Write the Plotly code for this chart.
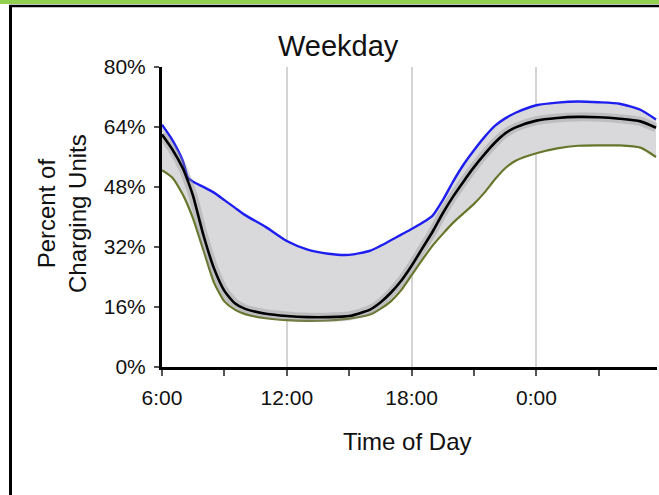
import plotly.graph_objects as go

# Hours of day (6:00 through the next morning, 24 = midnight)
hours = [6, 6.5, 7, 7.25, 7.5, 8, 8.5, 9, 9.5, 10, 11, 12, 13, 14, 15, 16, 16.5, 17,
         17.5, 18, 18.5, 19, 19.5, 20, 20.5, 21, 21.5, 22, 22.5, 23, 24, 25, 26, 27,
         28, 29, 29.75]

upper = [64.6, 60.5, 55.0, 50.5, 49.4, 48.0, 46.5, 44.5, 42.5, 40.5, 37.3, 33.6, 31.3,
         30.2, 29.9, 31.0, 32.3, 33.8, 35.3, 36.8, 38.4, 40.3, 44.5, 49.5, 54.0, 57.8,
         61.3, 64.3, 66.3, 67.8, 69.8, 70.5, 70.8, 70.6, 70.2, 68.6, 66.0]

mean = [62.0, 58.0, 53.0, 49.5, 45.5, 35.0, 26.3, 20.3, 17.0, 15.5, 14.2, 13.6, 13.3,
        13.3, 13.6, 15.3, 17.2, 19.8, 23.0, 27.0, 31.5, 36.0, 41.0, 45.5, 49.5, 53.3,
        56.7, 59.8, 62.3, 63.9, 65.7, 66.4, 66.7, 66.6, 66.2, 65.5, 63.8]

lower = [52.5, 50.5, 46.0, 43.0, 39.5, 31.0, 22.5, 17.5, 15.3, 14.1, 13.0, 12.5, 12.3,
         12.4, 12.9, 14.0, 15.5, 17.5, 20.5, 24.5, 28.5, 32.3, 35.5, 38.5, 41.0, 43.5,
         46.5, 50.0, 53.0, 55.0, 57.0, 58.3, 59.0, 59.1, 59.1, 58.5, 56.0]

tick_vals = [6, 12, 18, 24]
tick_text = ["6:00", "12:00", "18:00", "0:00"]
minor_vals = [9, 15, 21, 27]
y_ticks = [0, 16, 32, 48, 64, 80]
y_text = ["0%", "16%", "32%", "48%", "64%", "80%"]

FONT = "Liberation Sans, Arial, sans-serif"
SPL = dict(shape="spline", smoothing=0.6)

fig = go.Figure()
fig.add_trace(go.Scatter(x=hours, y=lower, mode="lines",
                         line=dict(color="#66762a", width=2.2, **SPL),
                         showlegend=False, hoverinfo="skip"))
fig.add_trace(go.Scatter(x=hours, y=upper, mode="lines", fill="tonexty",
                         fillcolor="#d9d9dc",
                         line=dict(color="#1e1ef0", width=2.4, **SPL),
                         showlegend=False, hoverinfo="skip"))
# soft shadow band around the mean line
fig.add_trace(go.Scatter(x=hours, y=mean, mode="lines",
                         line=dict(color="rgba(140,140,140,0.35)", width=9, **SPL),
                         showlegend=False, hoverinfo="skip"))
fig.add_trace(go.Scatter(x=hours, y=mean, mode="lines",
                         line=dict(color="#000000", width=2.6, **SPL),
                         showlegend=False, hoverinfo="skip"))

L, R, T, B = 162, 2, 67, 128
W, H = 659, 495
pw, ph = W - L - R, H - T - B


def px(x):
    return (x - L) / pw


def py(y):
    return (H - B - y) / ph


fig.update_layout(
    width=W, height=H,
    margin=dict(l=L, r=R, t=T, b=B, pad=0),
    paper_bgcolor="white", plot_bgcolor="white",
    font=dict(family=FONT, color="#111111"),
    showlegend=False,
    xaxis=dict(
        range=[6, 6 + 6 * pw / 124.8],
        tickmode="array", tickvals=tick_vals, ticktext=tick_text,
        ticks="outside", ticklen=6, tickwidth=1.5, tickcolor="#555555",
        tickfont=dict(size=21, family=FONT, color="#111111"),
        showgrid=True, gridcolor="#d4d4d4", gridwidth=2,
        showline=True, linecolor="#000000", linewidth=3,
        zeroline=False, ticklabelstandoff=4,
        minor=dict(tickmode="array", tickvals=minor_vals, ticks="outside",
                   ticklen=6, tickwidth=1.5, tickcolor="#555555", showgrid=False),
        fixedrange=True,
    ),
    yaxis=dict(
        range=[0, 80],
        tickmode="array", tickvals=y_ticks, ticktext=y_text,
        ticks="outside", ticklen=5, tickwidth=1.5, tickcolor="#555555",
        tickfont=dict(size=21, family=FONT, color="#111111"),
        showgrid=False, showline=True, linecolor="#000000", linewidth=3,
        zeroline=False, ticklabelstandoff=4,
        fixedrange=True,
    ),
    annotations=[
        dict(text="Weekday", x=px(338), y=py(46), xref="paper", yref="paper",
             showarrow=False, xanchor="center", yanchor="middle",
             font=dict(size=29, family=FONT, color="#111111")),
        dict(text="Percent of<br>Charging Units", x=px(62), y=py(214), xref="paper",
             yref="paper", showarrow=False, textangle=-90, xanchor="center",
             yanchor="middle", font=dict(size=24, family=FONT, color="#111111")),
        dict(text="Time of Day", x=px(407), y=py(441), xref="paper", yref="paper",
             showarrow=False, xanchor="center", yanchor="middle",
             font=dict(size=24, family=FONT, color="#111111")),
    ],
    shapes=[
        dict(type="rect", xref="paper", yref="paper", x0=px(0), x1=px(W),
             y0=py(0), y1=py(4), fillcolor="#92d050", line=dict(width=0), layer="above"),
        dict(type="line", xref="paper", yref="paper", x0=px(9), x1=px(W),
             y0=py(6), y1=py(6), line=dict(color="#000000", width=2.5), layer="above"),
        dict(type="line", xref="paper", yref="paper", x0=px(10.5), x1=px(10.5),
             y0=py(5), y1=py(H), line=dict(color="#000000", width=3), layer="above"),
    ],
)

fig.write_html("out.html", config=dict(displayModeBar=False))
